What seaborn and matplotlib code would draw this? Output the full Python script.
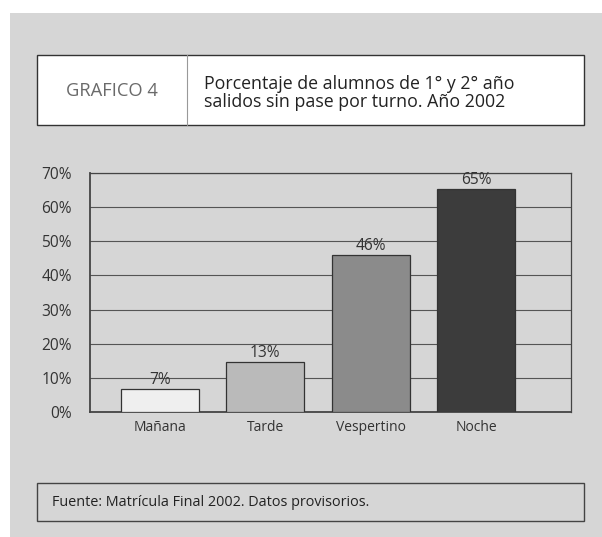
import matplotlib
matplotlib.use("Agg")
import matplotlib.pyplot as plt
from matplotlib.patches import Rectangle
import seaborn as sns
import pandas as pd

# Data
turnos = ["Mañana", "Tarde", "Vespertino", "Noche"]
porcentajes = [6.7, 14.6, 46.0, 65.3]
etiquetas = ["7%", "13%", "46%", "65%"]
colores = ["#efefef", "#bababa", "#8b8b8b", "#3c3c3c"]
ticks = [0, 10, 20, 30, 40, 50, 60, 70]

df = pd.DataFrame({"turno": turnos, "pct": porcentajes})

sns.set_theme(style="white")
plt.rcParams["font.family"] = ["Open Sans", "DejaVu Sans"]

W, H = 602, 537
fig = plt.figure(figsize=(W / 100, H / 100), dpi=100)
fig.patch.set_facecolor("white")

def px(x, y, w, h):
    # pixel box (top-left origin) -> figure fraction
    return (x / W, 1 - (y + h) / H, w / W, h / H)

# textured gray page
fig.patches.append(Rectangle(px(10, 13, 592, 524)[:2], 592 / W, 524 / H,
                             transform=fig.transFigure, facecolor="#d6d6d6",
                             edgecolor="none", zorder=0))

# title box
bx = px(37, 55, 547, 70)
fig.patches.append(Rectangle(bx[:2], bx[2], bx[3], transform=fig.transFigure,
                             facecolor="white", edgecolor="#333333", lw=1.0, zorder=1))
fig.add_artist(plt.Line2D([187 / W, 187 / W], [bx[1], bx[1] + bx[3]],
                          transform=fig.transFigure, color="#999999", lw=0.8, zorder=2))
fig.text(112 / W, 1 - 91 / H, "GRAFICO 4", ha="center", va="center",
         fontsize=13.2, color="#6a6a6a", zorder=3)
fig.text(204 / W, 1 - 93 / H,
         "Porcentaje de alumnos de 1° y 2° año\nsalidos sin pase por turno. Año 2002",
         ha="left", va="center", fontsize=12.8, color="#222222", linespacing=1.0,
         zorder=3)

# footer box
fb = px(37, 483, 547, 38)
fig.patches.append(Rectangle(fb[:2], fb[2], fb[3], transform=fig.transFigure,
                             facecolor="none", edgecolor="#444444", lw=1.0, zorder=1))
fig.text(52 / W, 1 - 502 / H, "Fuente: Matrícula Final 2002. Datos provisorios.",
         ha="left", va="center", fontsize=10.4, color="#222222", zorder=3)

# chart
ax = fig.add_axes([90 / W, 1 - 412 / H, (571 - 90) / W, (412 - 173) / H])
ax.set_zorder(5)
ax.set_facecolor("none")
sns.barplot(data=df, x="turno", y="pct", hue="turno", palette=colores,
            legend=False, width=0.74, edgecolor="#333333", linewidth=0.9,
            saturation=1, ax=ax, zorder=3)

for i, (v, lab) in enumerate(zip(porcentajes, etiquetas)):
    ax.text(i, v + 0.3, lab, ha="center", va="bottom", fontsize=11.2, color="#333333")

ax.set_xlim(-0.66, 3.9)
ax.set_ylim(0, 70)
ax.set_yticks(ticks)
ax.set_yticklabels([f"{t}%" for t in ticks])
ax.yaxis.grid(True, color="#555555", lw=0.8)
ax.set_axisbelow(True)
for s in ax.spines.values():
    s.set_visible(True)
    s.set_color("#444444")
    s.set_linewidth(0.9)
ax.spines["left"].set_linewidth(1.3)
ax.spines["bottom"].set_linewidth(1.3)
ax.tick_params(axis="both", length=0, colors="#333333")
ax.tick_params(axis="y", pad=13, labelsize=11.2)
ax.tick_params(axis="x", pad=6, labelsize=10)
ax.set_xlabel("")
ax.set_ylabel("")

fig.savefig("out.png", dpi=100, facecolor=fig.get_facecolor())
